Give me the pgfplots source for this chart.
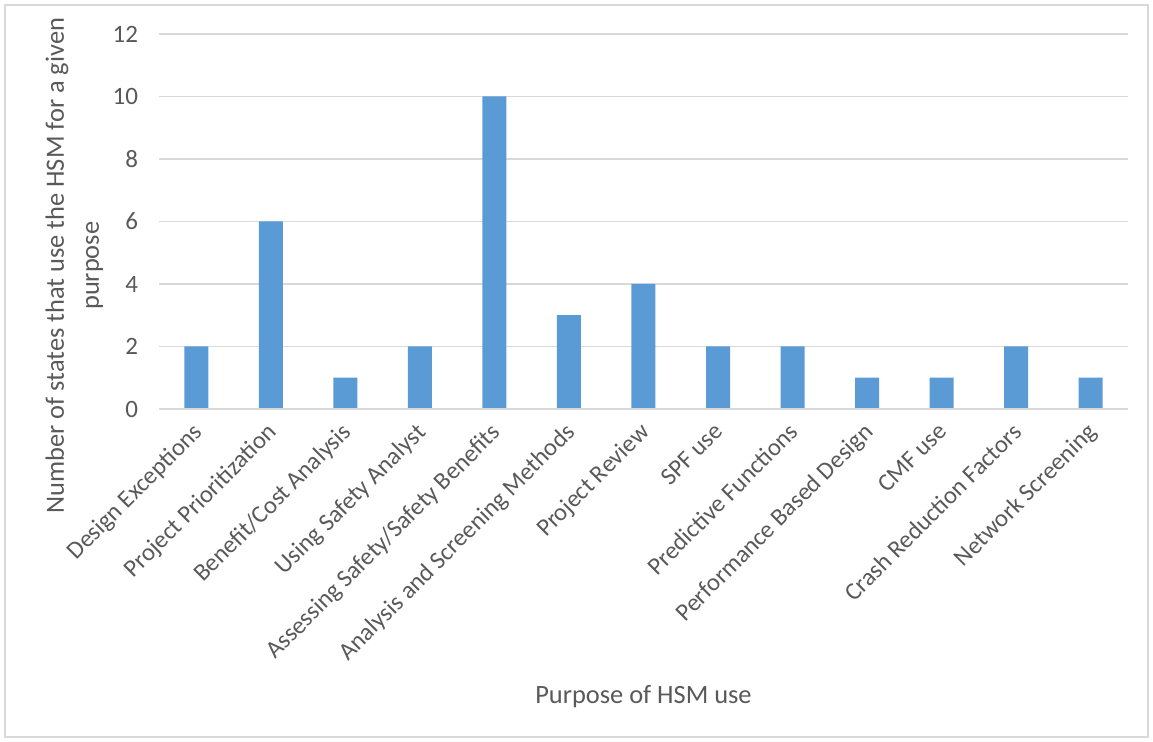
\documentclass[border=0pt]{standalone}
\usepackage{pgfplots}
\pgfplotsset{compat=1.18}
\usepackage{fontspec}
\setmainfont{Carlito}
\definecolor{barblue}{HTML}{5B9BD5}
\definecolor{txtgray}{HTML}{595959}
\definecolor{gridgray}{HTML}{D9D9D9}
\begin{document}
\begin{tikzpicture}
\useasboundingbox (-79.5pt,-166.5pt) rectangle (497pt,204.5pt);
\draw[gridgray, line width=0.7pt] (-77pt,-164pt) rectangle (494.5pt,202pt);
\begin{axis}[
  at={(0,0)}, anchor=south west,
  scale only axis,
  width=484.5pt, height=187.5pt,
  xmin=-0.5, xmax=12.5,
  ymin=0, ymax=12,
  ytick={0,2,4,6,8,10,12},
  xtick={0,...,12},
  xticklabels={Design Exceptions, Project Prioritization, Benefit/Cost Analysis, Using Safety Analyst, Assessing Safety/Safety Benefits, Analysis and Screening Methods, Project Review, SPF use, Predictive Functions, Performance Based Design, CMF use, Crash Reduction Factors, Network Screening},
  axis line style={draw=none},
  ymajorgrids,
  grid style={gridgray, line width=0.7pt},
  major tick length=0pt,
  xtick pos=bottom, ytick pos=left,
  tick label style={font=\fontsize{12.5}{15}\selectfont, text=txtgray},
  /pgf/number format/assume math mode=true,
  yticklabel style={anchor=east, xshift=-7pt},
  xticklabel style={font=\fontsize{12.3}{15}\selectfont, rotate=45, anchor=north east, inner sep=0pt, yshift=-2.5pt, xshift=-6pt},
  xlabel={Purpose of HSM use},
  xlabel style={at={(rel axis cs:0.5,0)}, anchor=center, yshift=-144pt, font=\fontsize{13.2}{16}\selectfont, text=txtgray},
  ylabel={Number of states that use the HSM for a given\\purpose},
  ylabel style={at={(rel axis cs:0,0.382)}, anchor=center, yshift=42.3pt, align=center, font=\fontsize{13.2}{17.5}\selectfont, text=txtgray},
  clip=false,
]
\addplot[ybar, bar width=12pt, fill=barblue, draw=none] coordinates {
(0,2) (1,6) (2,1) (3,2) (4,10) (5,3) (6,4) (7,2) (8,2) (9,1) (10,1) (11,2) (12,1)
};
\draw[gridgray, line width=0.7pt] (rel axis cs:0,0) -- (rel axis cs:1,0);
\end{axis}
\end{tikzpicture}
\end{document}
